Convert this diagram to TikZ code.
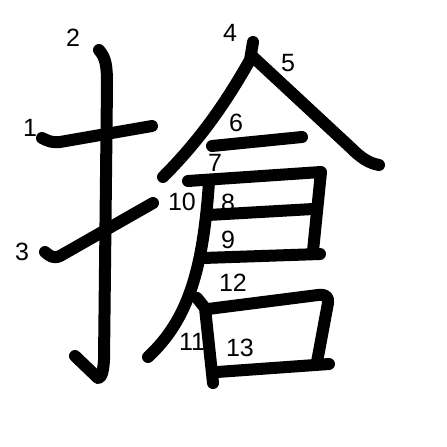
\documentclass[tikz,border=0pt]{standalone}
\usepackage{fontspec}
\setmainfont{Liberation Sans}
\usepackage{tikz}

\begin{document}
\begin{tikzpicture}[x=1pt,y=-1pt,
    brush/.style={line width=12pt, line cap=round, line join=round},
    num/.style={font=\fontsize{25}{25}\selectfont, inner sep=0pt}]
\useasboundingbox (0,0) rectangle (447,447);

% Stroke numbers (under the strokes)
\node[num] (n1) at (30,128) {1};
\node[num] (n2) at (73,38) {2};
\node[num] (n3) at (22,252) {3};
\node[num] (n4) at (230,33) {4};
\node[num] (n5) at (288,63) {5};
\node[num] (n6) at (236,123) {6};
\node[num] (n7) at (215,163) {7};
\node[num] (n8) at (228,203) {8};
\node[num] (n9) at (228,240) {9};
\node[num] (n10) at (182,202) {10};
\node[num] (n11) at (192,342) {11};
\node[num] (n12) at (233,283) {12};
\node[num] (n13) at (240,348) {13};

% Radical (strokes 1-3)
\draw[brush] (42,138) .. controls (48,141) and (52,143) .. (60,142) -- (152,126);
\draw[brush] (99,50) .. controls (106,58) and (107,66) .. (107,85)
    -- (104,360) .. controls (103,374) and (101,378) .. (98,378) -- (75,356);
\draw[brush] (45,252) .. controls (50,256) and (53,259) .. (60,256) -- (153,203);

% Roof (strokes 4-6)
\draw[brush] (253,42) -- (250,60) .. controls (230,95) and (205,135) .. (163,177);
\draw[brush] (252,56) -- (350,147) .. controls (360,157) and (368,163) .. (379,165);
\draw[brush] (212,146) -- (302,137);

% Door part (strokes 7-10)
\draw[brush] (188,181) -- (321,172) -- (313,251);
\draw[brush] (208,215) -- (313,209);
\draw[brush] (203,258) -- (320,254);
\draw[brush] (209,182) .. controls (203,270) and (188,320) .. (148,357);

% Mouth (strokes 11-13)
\draw[brush] (197,298) -- (205,308) -- (213,383);
\draw[brush] (208,309) -- (318,295) .. controls (326,294) and (329,297) .. (328,303) -- (317,362);
\draw[brush] (217,372) -- (329,364);
\end{tikzpicture}
\end{document}
